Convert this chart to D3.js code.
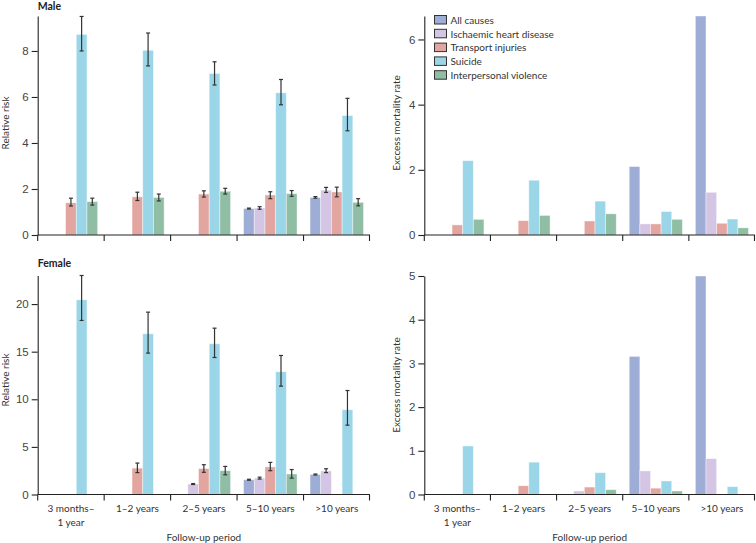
<!DOCTYPE html>
<html>
<head>
<meta charset="utf-8">
<script src="https://cdn.jsdelivr.net/npm/d3@7"></script>
<style>
  body { margin: 0; background: #fff; }
  svg { font-family: Lato, "Open Sans", sans-serif; }
  .axis path, .axis line { stroke: #222; }
  .axis text { fill: #444; font-size: 11.5px; }
  .lbl { fill: #333; font-size: 10px; }
</style>
</head>
<body>
<svg id="chart" width="756" height="543"></svg>
<script>
// follow-up periods (x categories)
var periods = ['3m-1y', '1-2y', '2-5y', '5-10y', '>10y'];
var periodLines = [['3 months–', '1 year'], ['1–2 years'], ['2–5 years'], ['5–10 years'], ['>10 years']];

// causes (bar series)
var causes = ['All causes', 'Ischaemic heart disease', 'Transport injuries', 'Suicide', 'Interpersonal violence'];
var causeColors = ['#9dadd6', '#d3c5e3', '#e3a59f', '#9bd6e8', '#8fbea5'];

// relative risk, rows = periods, columns = causes (null = not shown)
var maleRR   = [[null, null, 1.40, 8.72, 1.45],
                [null, null, 1.66, 8.03, 1.63],
                [null, null, 1.78, 7.02, 1.90],
                [1.15, 1.17, 1.74, 6.18, 1.80],
                [1.63, 1.95, 1.87, 5.19, 1.42]];
var maleLo   = [[null, null, 1.26, 8.00, 1.30],
                [null, null, 1.50, 7.35, 1.48],
                [null, null, 1.65, 6.52, 1.78],
                [1.13, 1.12, 1.58, 5.66, 1.68],
                [1.60, 1.85, 1.66, 4.53, 1.27]];
var maleHi   = [[null, null, 1.60, 9.50, 1.60],
                [null, null, 1.86, 8.78, 1.78],
                [null, null, 1.92, 7.53, 2.03],
                [1.17, 1.23, 1.88, 6.76, 1.93],
                [1.67, 2.07, 2.08, 5.94, 1.58]];

var femaleRR = [[null, null, null, 20.45, null],
                [null, null, 2.77, 16.88, null],
                [null, 1.10, 2.72, 15.83, 2.50],
                [1.55, 1.72, 2.90, 12.89, 2.15],
                [2.10, 2.48, null, 8.90, null]];
var femaleLo = [[null, null, null, 18.28, null],
                [null, null, 2.30, 14.85, null],
                [null, 1.05, 2.33, 14.39, 2.07],
                [1.50, 1.62, 2.50, 11.38, 1.72],
                [2.05, 2.30, null, 7.28, null]];
var femaleHi = [[null, null, null, 23.0, null],
                [null, null, 3.30, 19.15, null],
                [null, 1.15, 3.13, 17.47, 2.95],
                [1.60, 1.82, 3.37, 14.60, 2.62],
                [2.15, 2.70, null, 10.92, null]];

// excess mortality rate
var maleEMR   = [[null, null, 0.31, 2.28, 0.48],
                 [null, null, 0.44, 1.68, 0.60],
                 [null, null, 0.43, 1.04, 0.65],
                 [2.10, 0.34, 0.34, 0.72, 0.48],
                 [6.72, 1.31, 0.36, 0.49, 0.22]];
var femaleEMR = [[null, null, null, 1.11, null],
                 [null, null, 0.20, 0.74, null],
                 [null, 0.08, 0.17, 0.50, 0.11],
                 [3.16, 0.54, 0.145, 0.31, 0.08],
                 [5.00, 0.82, null, 0.18, null]];

var svg = d3.select('#chart');

function drawPanel(opt) {
    var g = svg.append('g');

    var x = d3.scaleBand().domain(periods).range([opt.x0, opt.x1]);
    var xi = d3.scaleBand().domain(d3.range(causes.length))
        .range([6.5, x.bandwidth() - 6.5]);
    var y = d3.scaleLinear().domain([0, opt.max]).range([opt.base, opt.top]);

    // bars
    periods.forEach(function (p, i) {
        var row = opt.values[i];
        var grp = g.append('g').attr('transform', 'translate(' + x(p) + ',0)');
        grp.selectAll('rect')
            .data(row.map(function (v, j) { return {v: v, j: j}; }).filter(function (d) { return d.v != null; }))
            .enter().append('rect')
            .attr('x', function (d) { return xi(d.j); })
            .attr('width', xi.bandwidth())
            .attr('y', function (d) { return y(d.v); })
            .attr('height', function (d) { return y(0) - y(d.v); })
            .attr('fill', function (d) { return causeColors[d.j]; })
            .attr('stroke', '#fff')
            .attr('stroke-opacity', 0.5)
            .attr('stroke-width', 0.8);

        // error bars
        if (opt.lo) {
            var errs = row.map(function (v, j) { return {lo: opt.lo[i][j], hi: opt.hi[i][j], j: j}; })
                .filter(function (d) { return d.lo != null; });
            var eb = grp.selectAll('g.err').data(errs).enter().append('g')
                .attr('class', 'err')
                .attr('stroke', '#333')
                .attr('stroke-width', 1.2);
            eb.append('line')
                .attr('x1', function (d) { return xi(d.j) + xi.bandwidth() / 2; })
                .attr('x2', function (d) { return xi(d.j) + xi.bandwidth() / 2; })
                .attr('y1', function (d) { return y(d.lo); })
                .attr('y2', function (d) { return y(d.hi); });
            ['lo', 'hi'].forEach(function (k) {
                eb.append('line')
                    .attr('x1', function (d) { return xi(d.j) + xi.bandwidth() / 2 - 2; })
                    .attr('x2', function (d) { return xi(d.j) + xi.bandwidth() / 2 + 2; })
                    .attr('y1', function (d) { return y(d[k]); })
                    .attr('y2', function (d) { return y(d[k]); });
            });
        }
    });

    // y axis
    g.append('g').attr('class', 'axis')
        .attr('transform', 'translate(' + opt.x0 + ',0)')
        .call(d3.axisLeft(y).tickValues(opt.ticks).tickFormat(d3.format('d'))
            .tickSize(6).tickSizeOuter(0).tickPadding(3))
        .call(function (a) { a.selectAll('path,line').attr('stroke-width', 1.1); });

    // x axis with ticks at group boundaries
    var xa = g.append('g').attr('class', 'axis');
    xa.append('line')
        .attr('x1', opt.x0).attr('x2', opt.x1)
        .attr('y1', opt.base).attr('y2', opt.base)
        .attr('stroke-width', 1.1);
    var bounds = periods.map(function (p) { return x(p); }).concat([opt.x1 - 0.5]);
    xa.selectAll('line.tk').data(bounds).enter().append('line')
        .attr('class', 'tk')
        .attr('x1', function (d) { return d; }).attr('x2', function (d) { return d; })
        .attr('y1', opt.base).attr('y2', opt.base + 6)
        .attr('stroke-width', 1.1);

    if (opt.showX) {
        periods.forEach(function (p, i) {
            periodLines[i].forEach(function (t, k) {
                g.append('text').attr('class', 'lbl')
                    .attr('x', x(p) + x.bandwidth() / 2)
                    .attr('y', opt.base + 17 + k * 14.5)
                    .attr('text-anchor', 'middle')
                    .text(t);
            });
        });
        g.append('text').attr('class', 'lbl')
            .attr('x', (opt.x0 + opt.x1) / 2)
            .attr('y', opt.base + 46)
            .attr('text-anchor', 'middle')
            .text('Follow-up period');
    }

    // y label
    g.append('text').attr('class', 'lbl')
        .attr('transform', 'translate(' + opt.ylx + ',' + opt.yly + ') rotate(-90)')
        .attr('text-anchor', 'middle')
        .text(opt.ylabel);

    if (opt.title) {
        g.append('text')
            .attr('x', opt.x0).attr('y', opt.titleY)
            .attr('font-size', '10.5px')
            .attr('font-weight', 'bold')
            .attr('fill', '#222')
            .text(opt.title);
    }
}

drawPanel({x0: 37.7, x1: 370, base: 235, top: 16, max: 9.52, ticks: [0, 2, 4, 6, 8],
    values: maleRR, lo: maleLo, hi: maleHi, title: 'Male', titleY: 9.5,
    ylabel: 'Relative risk', ylx: 8.5, yly: 123});
drawPanel({x0: 37.7, x1: 370, base: 494.5, top: 275.5, max: 23, ticks: [0, 5, 10, 15, 20],
    values: femaleRR, lo: femaleLo, hi: femaleHi, title: 'Female', titleY: 266.5,
    ylabel: 'Relative risk', ylx: 8.5, yly: 380, showX: true});
drawPanel({x0: 424.3, x1: 755, base: 235, top: 16, max: 6.72, ticks: [0, 2, 4, 6],
    values: maleEMR, ylabel: 'Exccess mortality rate', ylx: 400, yly: 123});
drawPanel({x0: 424.3, x1: 755, base: 494.5, top: 276, max: 5, ticks: [0, 1, 2, 3, 4, 5],
    values: femaleEMR, ylabel: 'Exccess mortality rate', ylx: 400, yly: 385, showX: true});

// legend
var legend = svg.append('g').attr('transform', 'translate(434.5,15.5)');
var li = legend.selectAll('g').data(causes).enter().append('g')
    .attr('transform', function (d, i) { return 'translate(0,' + (i * 13.8) + ')'; });
li.append('rect')
    .attr('width', 12).attr('height', 8.5)
    .attr('fill', function (d, i) { return causeColors[i]; })
    .attr('stroke', '#333').attr('stroke-width', 1);
li.append('text').attr('class', 'lbl')
    .attr('x', 16).attr('y', 8.2)
    .attr('font-size', '10.5px')
    .text(function (d) { return d; });
</script>
</body>
</html>
